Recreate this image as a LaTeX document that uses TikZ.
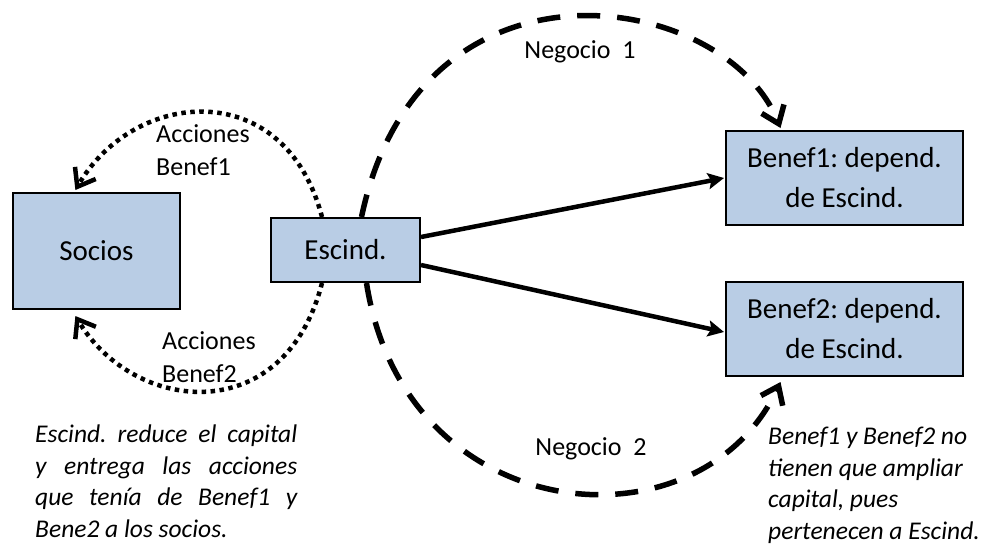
\documentclass[tikz,border=0pt]{standalone}
\usepackage{fontspec}
\setmainfont{Carlito}
\usetikzlibrary{arrows.meta,calc}
\definecolor{boxfill}{RGB}{185,205,229}
\frenchspacing
\begin{document}
\begin{tikzpicture}[x=1pt,y=-1pt,
  box/.style={draw=black, line width=2pt, fill=boxfill, inner sep=0pt,
    font=\fontsize{29}{40}\selectfont},
  twoline/.style={align=center},
  flow/.style={line width=4.5pt, -{Stealth[length=16pt,width=16pt,inset=3pt]}},
  dashedflow/.style={line width=5.5pt, dash pattern=on 23pt off 17pt,
    -{Straight Barb[length=16pt,width=24pt]}},
  dottedflow/.style={line width=4.5pt, dash pattern=on 4.5pt off 4.5pt,
    -{Straight Barb[length=16pt,width=24pt]}},
  lbl/.style={inner sep=0pt, font=\fontsize{26}{33}\selectfont},
  note/.style={inner sep=0pt, align=left, font=\fontsize{25.5}{31.5}\selectfont\itshape}]

\useasboundingbox (0,0) rectangle (994,547);

% companies
\node[box, minimum width=167pt, minimum height=116pt] (socios) at (96.4,251) {Socios};
\node[box, minimum width=149pt, minimum height=64pt] (escind) at (345.5,250) {Escind.};
\node[box, twoline, minimum width=237pt, minimum height=94pt] (benef1) at (844.5,178) {Benef1: depend.\\de Escind.};
\node[box, twoline, minimum width=237pt, minimum height=94pt] (benef2) at (844.5,329) {Benef2: depend.\\de Escind.};

% direct dependence
\draw[flow] ($(escind.east)+(0,-13)$) -- ($(benef1.west)+(-1,0)$);
\draw[flow] ($(escind.east)+(0,15)$) -- ($(benef2.west)+(-1,3)$);

% business units transferred
\draw[dashedflow] ($(escind.north)+(16,0)$) .. controls (420,-60) and (725,-10) .. ($(benef1.north)+(-64,-2)$);
\draw[dashedflow] ($(escind.south)+(21,0)$) .. controls (405,530) and (700,555) .. ($(benef2.south)+(-64,5)$);

% shares handed to the partners
\draw[dottedflow] ($(escind.north)+(-23.5,0)$) .. controls (285,76) and (135,88) .. ($(socios.north)+(-21,-2)$);
\draw[dottedflow] ($(escind.south)+(-23.5,0)$) .. controls (285,428) and (135,415) .. ($(socios.south)+(-21,6)$);

% labels (base anchor sits on the last line)
\node[lbl, anchor=base west, align=left] (acc1) at (156,175) {Acciones\\Benef1};
\node[lbl, anchor=base west, align=left] (acc2) at (162,382) {Acciones\\Benef2};
\node[lbl, anchor=base] (neg1) at (580,58) {Negocio\ \ 1};
\node[lbl, anchor=base] (neg2) at (591,455) {Negocio\ \ 2};

% notes
\node[note, anchor=base west] (nota1) at (35,537)
  {\makebox[262pt][s]{Escind. reduce el capital}\\
   \makebox[262pt][s]{y entrega las acciones}\\
   \makebox[262pt][s]{que tenía de Benef1 y}\\
   Bene2 a los socios.};
\node[note, anchor=base west] (nota2) at (768,539)
  {Benef1 y Benef2 no\\tienen que ampliar\\capital, pues\\pertenecen a Escind.};
\end{tikzpicture}
\end{document}
